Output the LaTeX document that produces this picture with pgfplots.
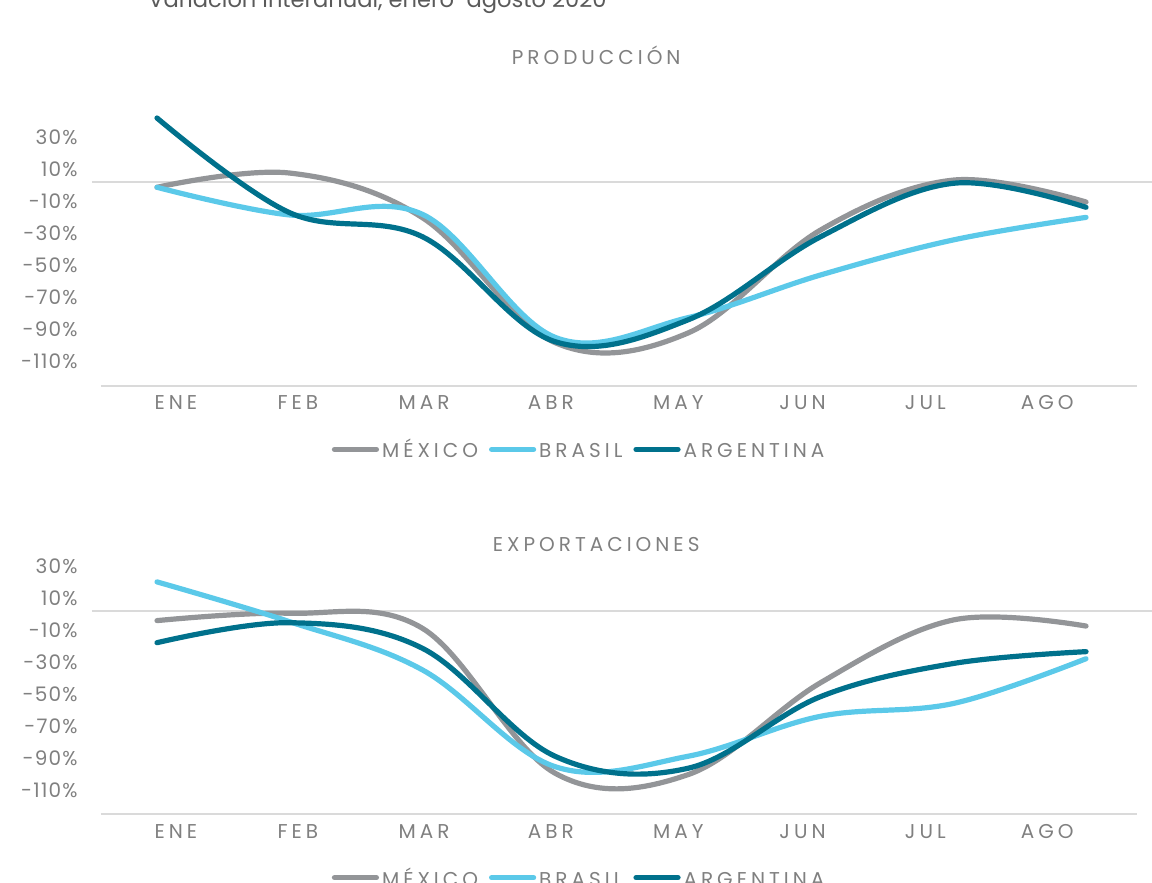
\documentclass[border=0pt]{standalone}
\usepackage{fontspec}
\setmainfont{Poppins}
\newfontfamily\lab{Poppins}[LetterSpace=6]
\newfontfamily\labw{Poppins}[LetterSpace=20]
\usepackage{pgfplots}
\pgfplotsset{compat=1.18}

\definecolor{mex}{HTML}{939598}
\definecolor{bra}{HTML}{5BC9E9}
\definecolor{arg}{HTML}{00718C}
\definecolor{labgray}{HTML}{808080}
\definecolor{linegray}{HTML}{DADADA}
\definecolor{subgray}{HTML}{5A5A5A}

% produccion
\pgfplotstableread{
x mex bra arg
0 -3.5 -3.5 39.8
1 5.4 -20.8 -19.4
2 -22.5 -20.4 -34.4
3 -100.6 -97.3 -100.0
4 -94.6 -85.0 -86.4
5 -30.2 -58.3 -34.4
6 1.0 -36.4 -1.0
7 -12.7 -22.3 -16.0
}\prod

% exportaciones
\pgfplotstableread{
x mex bra arg
0 -6.2 18.0 -20.0
1 -1.6 -6.9 -7.5
2 -11.0 -37.0 -23.5
3 -101.6 -97.5 -91.0
4 -102.5 -91.0 -98.5
5 -45.0 -66.0 -53.7
6 -5.8 -58.0 -33.0
7 -9.6 -30.0 -25.6
}\expo

\pgfplotsset{
  panel/.style={
    scale only axis, width=518pt,
    xmin=-0.422, xmax=7.384,
    clip=false,
    axis x line=bottom, axis y line=left,
    x axis line style={draw=linegray, line width=1pt, -},
    y axis line style={draw=none},
    tick style={draw=none}, major tick length=0pt,
    xtick={0.142,1.062,2.012,2.968,3.928,4.864,5.789,6.708},
    xticklabels={ENE,FEB,MAR,ABR,MAY,JUN,JUL,AGO},
    ytick={-110,-90,-70,-50,-30,-10,10,30},
    yticklabels={-110\%,-90\%,-70\%,-50\%,-30\%,-10\%,10\%,30\%},
    tick label style={text=labgray, inner sep=0pt},
    xticklabel style={font=\labw\fontsize{10}{12}\selectfont, anchor=base, yshift=-12.15pt},
    yticklabel style={font=\lab\fontsize{10}{12}\selectfont, anchor=east, xshift=-11.5pt, yshift=-1.75pt},
    title style={font=\labw\fontsize{10}{12}\selectfont, text=labgray, inner sep=0pt, anchor=base},
    legend columns=3,
    legend style={draw=none, fill=none, inner sep=0pt, font=\labw\fontsize{10}{12}\selectfont,
      text=labgray, anchor=center,
      nodes={inner sep=1.5pt, text height=7pt, text depth=0pt},
      /tikz/every even column/.append style={column sep=4pt}},
    legend image code/.code={\draw[#1] (0pt,0.8pt) -- (21pt,0.8pt);},
    every axis plot/.append style={smooth, tension=0.6, line width=2.6pt, line cap=round},
  },
  zeroline/.style={draw=linegray, line width=1pt, forget plot, sharp plot, line cap=butt},
}

\begin{document}
\begin{tikzpicture}
\path[use as bounding box] (0pt,0pt) rectangle (576pt,441.5pt);

\node[anchor=base west, inner sep=0pt, font=\fontsize{11.3}{13}\selectfont, text=subgray]
  at (74pt,437.5pt) {Variación interanual, enero-agosto 2020};

\begin{axis}[panel, at={(50.5pt,248.65pt)}, anchor=south west,
  height=142.85pt, ymin=-127.5, ymax=51.06,
  title={PRODUCCIÓN}, title style={at={(0.478,1)}, yshift=11.5pt},
  legend style={at={(0.462,0)}, yshift=-32.65pt}]
\addplot[zeroline] coordinates {(-0.49,0) (7.5,0)};
\addplot[mex] table[y=mex] {\prod};
\addplot[bra] table[y=bra] {\prod};
\addplot[arg] table[y=arg] {\prod};
\legend{MÉXICO, BRASIL, ARGENTINA}
\end{axis}

\begin{axis}[panel, at={(50.5pt,34.5pt)}, anchor=south west,
  height=137pt, ymin=-127.06, ymax=44.19,
  title={EXPORTACIONES}, title style={at={(0.478,1)}, yshift=-12pt},
  legend style={at={(0.462,0)}, yshift=-32.65pt}]
\addplot[zeroline] coordinates {(-0.49,0) (7.5,0)};
\addplot[mex] table[y=mex] {\expo};
\addplot[bra] table[y=bra] {\expo};
\addplot[arg] table[y=arg] {\expo};
\legend{MÉXICO, BRASIL, ARGENTINA}
\end{axis}
\end{tikzpicture}
\end{document}
